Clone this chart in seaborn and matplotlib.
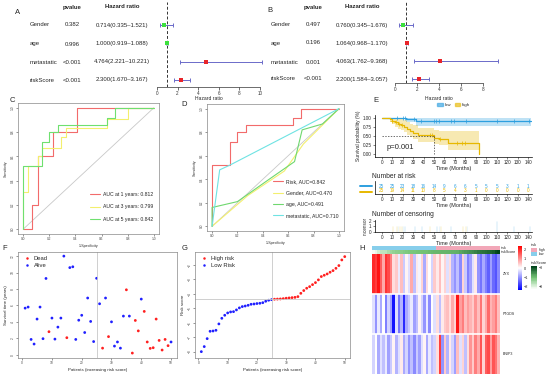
import numpy as np
import pandas as pd
import matplotlib
matplotlib.use("Agg")
import matplotlib.pyplot as plt
import matplotlib.transforms as mtrans
from matplotlib.colors import LinearSegmentedColormap, ListedColormap
from matplotlib.patches import Patch
import seaborn as sns

sns.set_theme(style="white")
plt.rcParams['font.family'] = ['Liberation Sans', 'DejaVu Sans']

# ---------------- data ----------------
forest_vars = ["Gender", "age", "metastatic", "riskScore"]
uni_p = ["0.382", "0.996", "<0.001", "<0.001"]
uni_hr = [0.714, 1.000, 4.764, 2.300]
uni_lo = [0.335, 0.919, 2.221, 1.670]
uni_hi = [1.521, 1.088, 10.221, 3.167]
multi_p = ["0.497", "0.196", "0.001", "<0.001"]
multi_hr = [0.760, 1.064, 4.063, 2.200]
multi_lo = [0.345, 0.968, 1.762, 1.584]
multi_hi = [1.676, 1.170, 9.368, 3.057]

# C: time-dependent ROC
roc1_fpr = [0, 0.069, 0.069, 0.115, 0.115, 0.23, 0.23, 0.413, 0.413, 1]
roc1_tpr = [0, 0, 0.2, 0.2, 0.6, 0.6, 0.8, 0.8, 1.0, 1]
roc3_fpr = [0, 0, 0.038, 0.038, 0.11, 0.11, 0.14, 0.14, 0.29, 0.29, 0.33, 0.33, 0.64, 0.64, 0.8, 0.8, 1]
roc3_tpr = [0, 0.31, 0.31, 0.52, 0.52, 0.6, 0.6, 0.67, 0.67, 0.76, 0.76, 0.83, 0.83, 0.91, 0.91, 1, 1]
roc5_fpr = [0, 0, 0.14, 0.14, 0.2, 0.2, 0.27, 0.27, 0.64, 0.64, 0.70, 0.70, 1]
roc5_tpr = [0, 0.52, 0.52, 0.72, 0.72, 0.8, 0.8, 0.86, 0.86, 0.92, 0.92, 1, 1]
roc_c_labels = ["AUC at 1 years: 0.812", "AUC at 3 years: 0.799", "AUC at 5 years: 0.842"]

# D: ROC by variable
risk_fpr = roc5_fpr
risk_tpr = roc5_tpr
gender_fpr = [0, 0.28, 0.57, 0.72, 1]
gender_tpr = [0, 0.26, 0.47, 0.70, 1]
age_fpr = [0, 0, 0.2, 0.45, 0.65, 0.71, 0.87, 1]
age_tpr = [0, 0.16, 0.21, 0.40, 0.55, 0.82, 0.87, 1]
meta_fpr = [0, 0.06, 0.14, 1]
meta_tpr = [0, 0.48, 0.52, 1]
roc_d_labels = ["Risk, AUC=0.842", "Gender, AUC=0.470", "age, AUC=0.491", "metastatic, AUC=0.710"]

# E: Kaplan-Meier
low_t = [0, 23, 33, 143]
low_s = [1.0, 0.96, 0.915, 0.915]
low_lower = [1.0, 0.88, 0.78, 0.78]
low_upper = [1.0, 1.0, 1.0, 1.0]
high_t = [0, 8, 10, 13, 16, 18, 21, 24, 27, 30, 35, 50, 55, 63, 93]
high_s = [1, 0.96, 0.92, 0.88, 0.84, 0.80, 0.76, 0.70, 0.64, 0.58, 0.52, 0.46, 0.42, 0.31, 0.0]
high_lower = [1, 0.89, 0.82, 0.76, 0.71, 0.66, 0.61, 0.54, 0.47, 0.41, 0.33, 0.28, 0.25, 0.13, 0.0]
high_upper = [1, 1, 1, 0.99, 0.98, 0.96, 0.93, 0.89, 0.84, 0.80, 0.73, 0.68, 0.65, 0.63, 0.0]
low_cens = [15, 20, 22, 31, 38, 50, 52, 55, 66, 69, 81, 110, 126, 141]
low_cens_n = [1, 1, 1, 1, 1, 1, 1, 1, 1, 1, 1, 2, 1, 1]
high_cens = [10, 14, 17, 19, 46, 48, 56, 72, 77, 80]
high_cens_n = [1, 1, 1, 1, 1, 1, 1, 1, 1, 1]
risk_times = [0, 10, 20, 30, 40, 50, 60, 70, 80, 90, 100, 110, 120, 130, 140]
low_at_risk = [25, 25, 23, 18, 16, 14, 9, 6, 6, 5, 5, 5, 3, 1, 1]
high_at_risk = [25, 19, 14, 11, 10, 8, 5, 4, 3, 1, 0, 0, 0, 0, 0]

# F: survival status
surv_years = [5.67, 5.8, 1.86, 1.3, 4.34, 5.8, 1.95, 9.28, 2.8, 4.46,
              1.9, 3.36, 4.46, 12.0, 2.07, 10.6, 10.7, 1.86, 4.2, 4.8,
              2.7, 6.9, 4.05, 1.6, 9.3, 6.2, 0.8, 6.9, 2.2, 4.0,
              1.05, 1.55, 0.8, 4.7, 7.9, 4.7, 0.2, 4.17, 2.9, 6.77,
              5.27, 1.55, 0.77, 0.85, 4.34, 1.74, 0.57, 1.86, 1.1, 1.55]
dead = [0, 0, 0, 0, 0, 0, 0, 0, 1, 0,
        0, 0, 0, 0, 1, 0, 0, 0, 0, 0,
        0, 0, 0, 0, 0, 0, 1, 0, 1, 0,
        0, 0, 0, 0, 1, 0, 1, 1, 1, 0,
        1, 1, 1, 1, 1, 1, 1, 1, 1, 0]

# G: risk score
risk_score = [-8.00, -7.65, -7.10, -6.59, -6.57, -6.52, -6.08, -5.69, -5.48, -5.32,
              -5.25, -5.23, -5.11, -4.97, -4.88, -4.84, -4.79, -4.72, -4.70, -4.67,
              -4.65, -4.61, -4.51, -4.44, -4.40, -4.37, -4.36, -4.35, -4.33, -4.30,
              -4.28, -4.26, -4.24, -4.19, -3.96, -3.77, -3.61, -3.50, -3.36, -3.22,
              -3.03, -2.80, -2.71, -2.62, -2.50, -2.39, -2.23, -2.04, -1.65, -1.42]
risk_cutoff = -4.38

# H: expression heatmap
genes = ["ZYX", "PTGDS", "BNIP3"]
zyx = [2.0, 1.8, 2.2, 1.5, 0.8, 1.9, 1.7, 1.2, 0.3, 0.5,
       -0.2, 0.6, -0.5, 0.1, -0.3, 0.8, -0.6, 0.2, -0.1, 0.4,
       -0.8, 0.3, 0.0, -0.4, 0.5, 0.2, 0.6, 0.1, 0.4, -0.3,
       0.3, -0.7, -1.0, -0.6, -1.1, 0.4, -0.5, -1.2, -0.9, -0.3,
       0.2, -1.0, -1.3, -0.8, -1.2, -1.5, -0.9, -1.4, -1.6, -1.1]
ptgds = [-0.3, -1.0, -0.2, -0.8, 0.0, -1.2, -0.4, -0.9, -2.2, -0.3,
         -1.3, -0.7, -2.0, -0.8, -0.5, -0.2, -0.9, -0.6, 0.1, -0.4,
         -1.0, -0.2, -1.1, 0.0, -0.3, 0.3, -0.6, 0.2, 0.5, 0.6,
         0.3, 0.8, 0.4, 2.2, 0.9, 1.2, 0.6, 0.9, 0.7, 0.5,
         1.0, 0.6, 1.3, 0.4, 0.8, 1.4, 0.7, 0.9, 1.2, 0.6]
bnip3 = [-0.4, 0.0, -0.8, -0.3, -0.6, -0.2, -0.9, -0.5, 0.1, -0.7,
         -0.3, 0.2, -0.8, -0.4, -1.0, -0.6, -1.1, -0.5, -0.9, -0.3,
         0.1, -0.8, -0.2, -0.6, -0.4, 0.3, 1.8, -1.0, 0.5, -0.7,
         0.2, -0.4, -0.9, 0.6, -0.3, 0.4, -0.6, 0.3, 1.0, 0.5,
         1.2, 0.8, 1.6, 0.4, 1.5, 1.7, 0.9, 1.6, 1.3, 0.7]

# ---------------- layout helpers ----------------
W, H = 550, 379
fig = plt.figure(figsize=(W / 100, H / 100), dpi=100)


def add_ax(x0, y0, x1, y1):
    return fig.add_axes([x0 / W, 1 - y1 / H, (x1 - x0) / W, (y1 - y0) / H])


def ftext(x, y, s, **kw):
    kw.setdefault('va', 'center')
    fig.text(x / W, 1 - y / H, s, **kw)


blue_c = "#2E9FDF"
yel_c = "#E7B800"
fs = 4.3

# ---------------- A / B forest plots ----------------
def forest(x0, x1, y_rows, y_top, y_axis, xmax, hr, lo, hi, pv, lab_x, p_x, hr_x, letter, letter_xy):
    ax = add_ax(x0, y_top, x1, y_axis)
    step = (y_rows[-1] - y_rows[0]) / 3
    ax.set_ylim((y_axis - y_rows[0]) / step, (y_top - y_rows[0]) / step)
    ax.set_xlim(0, xmax)
    rows = np.arange(4)
    hr_a, lo_a, hi_a = np.array(hr), np.array(lo), np.array(hi)
    ax.axvline(1, ls=(0, (3, 2)), color="#333333", lw=0.7)
    ax.errorbar(hr_a, rows, xerr=[hr_a - lo_a, hi_a - hr_a], fmt='none', ecolor="#6b6bc9",
                elinewidth=0.7, capsize=1.6, capthick=0.7, clip_on=False)
    df = pd.DataFrame({"hr": hr_a, "row": rows, "grp": np.where(hr_a > 1, "up", "down")})
    sns.scatterplot(data=df, x="hr", y="row", hue="grp", palette={"up": "#e8242a", "down": "#3de03d"},
                    marker='s', s=9, edgecolor='none', legend=False, ax=ax, zorder=3, clip_on=False)
    for s in ["top", "right", "left"]:
        ax.spines[s].set_visible(False)
    ax.spines["bottom"].set_linewidth(0.5)
    ax.spines["bottom"].set_color("#333333")
    ax.set_xticks(np.arange(0, xmax + 1, 2))
    ax.set_yticks([])
    ax.tick_params(axis='x', labelsize=3.3, length=2, width=0.5, pad=1, bottom=True, colors="#333333")
    ax.set_xlabel("")
    ax.set_ylabel("")
    ftext((x0 + x1) / 2, 98, "Hazard ratio", ha='center', fontsize=3.6)
    ftext(p_x, 7, "pvalue", ha='center', fontsize=fs, fontweight='bold')
    ftext(hr_x, 7, "Hazard ratio", ha='center', fontsize=fs, fontweight='bold')
    for i in range(4):
        ftext(lab_x, y_rows[i], forest_vars[i], ha='left', fontsize=fs)
        ftext(p_x, y_rows[i], pv[i], ha='center', fontsize=fs)
        ftext(hr_x, y_rows[i], f"{hr[i]:.3f}({lo[i]:.3f}\u2013{hi[i]:.3f})", ha='center', fontsize=fs)
    ftext(letter_xy[0], letter_xy[1], letter, ha='center', fontsize=5.5)


forest(157, 260, [25, 44, 62, 80], 2, 87, 10, uni_hr, uni_lo, uni_hi, uni_p, 30, 72, 122, "A", (18, 13))
forest(395, 483, [25, 43, 62, 79], 2, 83, 8, multi_hr, multi_lo, multi_hi, multi_p, 271, 313, 362, "B", (270, 10))

# ---------------- C / D ROC ----------------
def roc_axes(box, curves, labels, colors, leg_xy, spacing, letter, letter_xy):
    ax = add_ax(*box)
    ax.plot([0, 1], [0, 1], color="#c8c8c8", lw=0.6)
    for (fx, ty), lab, col in zip(curves, labels, colors):
        sns.lineplot(x=fx, y=ty, sort=False, estimator=None, color=col, lw=0.8, ax=ax, label=lab)
    ax.set_xlim(-0.04, 1.04)
    ax.set_ylim(-0.04, 1.04)
    tk = [0, 0.2, 0.4, 0.6, 0.8, 1.0]
    ax.set_xticks(tk)
    ax.set_yticks(tk)
    ax.set_xticklabels([f"{t:.1f}" for t in tk])
    ax.set_yticklabels([f"{t:.1f}" for t in tk], rotation=90, va='center')
    ax.tick_params(labelsize=2.3, length=1.5, width=0.4, pad=1, bottom=True, left=True, colors="#444444")
    for s in ax.spines.values():
        s.set_linewidth(0.5)
        s.set_color("#888888")
    ax.set_xlabel("1-Specificity", fontsize=2.6, labelpad=2)
    ax.set_ylabel("Sensitivity", fontsize=2.6, labelpad=2)
    ax.legend(loc='upper left', bbox_to_anchor=(leg_xy[0] / W, 1 - leg_xy[1] / H),
              bbox_transform=fig.transFigure, frameon=False, fontsize=3.7, handlelength=1.9,
              handletextpad=0.7, labelspacing=spacing, borderpad=0, borderaxespad=0)
    ftext(letter_xy[0], letter_xy[1], letter, ha='center', fontsize=5.5)


roc_axes((18, 103, 159, 234), [(roc1_fpr, roc1_tpr), (roc3_fpr, roc3_tpr), (roc5_fpr, roc5_tpr)],
         roc_c_labels, ["#f26b6b", "#f3ef6e", "#6fe06f"], (90, 192), 1.45, "C", (12, 100))
roc_axes((207, 104, 344, 231),
         [(risk_fpr, risk_tpr), (gender_fpr, gender_tpr), (age_fpr, age_tpr), (meta_fpr, meta_tpr)],
         roc_d_labels, ["#f26b6b", "#f3ef6e", "#6fd86f", "#6fe3e3"], (273, 179), 1.25, "D", (184, 105))

# ---------------- E: KM curves ----------------
ftext(376, 101, "E", ha='center', fontsize=5.5)
ax = add_ax(375, 115, 532, 157)
ax.set_xlim(-6.4, 143.6)
ax.set_ylim(-0.07, 1.08)
for t, s, lwr, upr, col in [(low_t, low_s, low_lower, low_upper, blue_c),
                            (high_t, high_s, high_lower, high_upper, yel_c)]:
    ax.fill_between(t, lwr, upr, step='post', color=col, alpha=0.3, lw=0)
    sns.lineplot(x=t, y=s, estimator=None, sort=False, drawstyle='steps-post', color=col, lw=0.9, ax=ax)
for ct, t, s, col in [(low_cens, low_t, low_s, blue_c), (high_cens, high_t, high_s, yel_c)]:
    idx = np.searchsorted(t, ct, side='right') - 1
    ax.plot(ct, np.array(s)[idx], ls='none', marker='+', ms=2.5, mew=0.5, color=col)
hs = np.array(high_s)
med = high_t[int(np.argmax(hs <= 0.5))]
ax.plot([0, med], [0.5, 0.5], ls=(0, (2, 2)), color="#333333", lw=0.5)
ax.plot([med, med], [0.5, 0], ls=(0, (2, 2)), color="#333333", lw=0.5)
ax.text(5, 0.2, "p=0.001", fontsize=5.5, va='center')
ax.set_xticks(risk_times)
ax.set_yticks([0, 0.25, 0.5, 0.75, 1.0])
ax.set_yticklabels(["0.00", "0.25", "0.50", "0.75", "1.00"])
ax.tick_params(labelsize=3.3, length=1.5, width=0.4, pad=1, bottom=True, left=True)
for s in ["top", "right"]:
    ax.spines[s].set_visible(False)
for s in ["left", "bottom"]:
    ax.spines[s].set_linewidth(0.5)
    ax.spines[s].set_color("black")
ax.set_xlabel("Time (Months)", fontsize=4, labelpad=0.5)
ax.set_ylabel("Survival probability (%)", fontsize=3.5, labelpad=1)
handles = [Patch(facecolor=blue_c, edgecolor=blue_c, alpha=0.6), Patch(facecolor=yel_c, edgecolor=yel_c, alpha=0.6)]
fig.legend(handles, ["low", "high"], loc='center left', bbox_to_anchor=(437 / W, 1 - 105 / H), ncol=2,
           frameon=False, fontsize=3.2, handlelength=1.3, handleheight=0.8, handletextpad=0.4,
           columnspacing=0.8, borderpad=0, borderaxespad=0)

# number at risk
ftext(372, 177, "Number at risk", ha='left', fontsize=4.8)
ax = add_ax(375, 181, 532, 194)
ax.set_xlim(-6.4, 143.6)
ax.set_ylim(-0.6, 2.0)
for i, t in enumerate(risk_times):
    ax.text(t, 1, str(low_at_risk[i]), color=blue_c, ha='center', va='center', fontsize=3.3)
    ax.text(t, 0, str(high_at_risk[i]), color=yel_c, ha='center', va='center', fontsize=3.3)
trans = mtrans.blended_transform_factory(ax.transAxes, ax.transData)
ax.plot([-0.095, -0.02], [1.1, 1.1], color=blue_c, lw=1.4, transform=trans, clip_on=False)
ax.plot([-0.095, -0.02], [-0.1, -0.1], color=yel_c, lw=1.4, transform=trans, clip_on=False)
ax.set_xticks(risk_times)
ax.set_yticks([])
ax.tick_params(labelsize=3.3, length=1.5, width=0.4, pad=1, bottom=True)
for s in ["top", "right"]:
    ax.spines[s].set_visible(False)
for s in ["left", "bottom"]:
    ax.spines[s].set_linewidth(0.5)
    ax.spines[s].set_color("black")
ax.set_xlabel("Time (Months)", fontsize=4, labelpad=0.5)

# number of censoring
ftext(372, 214, "Number of censoring", ha='left', fontsize=4.8)
ax = add_ax(375, 220, 532, 232)
ax.set_xlim(-6.4, 143.6)
ax.set_ylim(0, 2.1)
ax.bar(low_cens, low_cens_n, width=0.8, color=blue_c, alpha=0.7)
ax.bar(high_cens, high_cens_n, width=0.8, color=yel_c, alpha=0.7)
ax.set_xticks(risk_times)
ax.set_yticks([0, 1, 2])
ax.tick_params(labelsize=3.3, length=1.5, width=0.4, pad=1, bottom=True, left=True)
for s in ["top", "right"]:
    ax.spines[s].set_visible(False)
for s in ["left", "bottom"]:
    ax.spines[s].set_linewidth(0.5)
    ax.spines[s].set_color("black")
ax.set_xlabel("Time (Months)", fontsize=4, labelpad=0.5)
ax.set_ylabel("n.censor", fontsize=3.3, labelpad=1)

# ---------------- F: survival status ----------------
patients = np.arange(1, 51)
ax = add_ax(18, 252, 177, 358)
fdf = pd.DataFrame({"p": patients, "t": surv_years, "status": np.where(np.array(dead) == 1, "Dead", "Alive")})
ax.axvline(25, color="#c8c8c8", lw=0.6)
sns.scatterplot(data=fdf, x="p", y="t", hue="status", hue_order=["Dead", "Alive"],
                palette={"Dead": "#ff2020", "Alive": "#2020ff"}, s=4, edgecolor='none', ax=ax)
ax.set_xlim(-1.4, 52)
ax.set_ylim(-0.4, 12.5)
ax.set_xticks([0, 10, 20, 30, 40, 50])
ax.set_yticks([0, 2, 4, 6, 8, 10, 12])
ax.tick_params(labelsize=2.3, length=1.5, width=0.4, pad=1, bottom=True, left=True, colors="#444444")
plt.setp(ax.get_yticklabels(), rotation=90, va='center')
for s in ax.spines.values():
    s.set_linewidth(0.5)
    s.set_color("#888888")
ax.set_xlabel("Patients (increasing risk score)", fontsize=3.2, labelpad=2)
ax.set_ylabel("Survival time (years)", fontsize=3.2, labelpad=2)
ax.legend(loc='upper left', frameon=False, fontsize=4.2, markerscale=0.9, handletextpad=0.1,
          labelspacing=0.45, borderpad=0.3, borderaxespad=0.3)
ftext(5, 248, "F", ha='center', fontsize=5.5)

# ---------------- G: risk score ----------------
ax = add_ax(195, 252, 350, 358)
gdf = pd.DataFrame({"p": patients, "r": risk_score,
                    "grp": np.where(np.array(risk_score) > risk_cutoff, "High risk", "Low Risk")})
ax.axvline(25, color="#c8c8c8", lw=0.6)
ax.axhline(risk_cutoff, color="#c8c8c8", lw=0.6)
sns.scatterplot(data=gdf, x="p", y="r", hue="grp", hue_order=["High risk", "Low Risk"],
                palette={"High risk": "#ff2020", "Low Risk": "#2020ff"}, s=4, edgecolor='none', ax=ax)
ax.set_xlim(-1.16, 51.8)
ax.set_ylim(-8.44, -1.1)
ax.set_xticks([0, 10, 20, 30, 40, 50])
ax.set_yticks([-8, -7, -6, -5, -4, -3, -2])
ax.tick_params(labelsize=2.3, length=1.5, width=0.4, pad=1, bottom=True, left=True, colors="#444444")
plt.setp(ax.get_yticklabels(), rotation=90, va='center')
for s in ax.spines.values():
    s.set_linewidth(0.5)
    s.set_color("#888888")
ax.set_xlabel("Patients (increasing risk score)", fontsize=3.2, labelpad=2)
ax.set_ylabel("Risk score", fontsize=3.2, labelpad=2)
ax.legend(loc='upper left', frameon=False, fontsize=4.2, markerscale=0.9, handletextpad=0.1,
          labelspacing=0.45, borderpad=0.3, borderaxespad=0.3)
ftext(185, 248, "G", ha='center', fontsize=5.5)

# ---------------- H: heatmap ----------------
ftext(362, 248, "H", ha='center', fontsize=5.5)
risk_cmap = ListedColormap(["#87CEEB", "#F2A7B8"])
score_cmap = LinearSegmentedColormap.from_list("sc", ["#f7fcf5", "#74c476", "#00441b"])
expr_cmap = LinearSegmentedColormap.from_list("ex", ["#0000ff", "#ffffff", "#ff0000"])

ax = add_ax(372, 246, 500, 250)
sns.heatmap(np.array([(np.array(risk_score) > risk_cutoff).astype(int)]), cmap=risk_cmap, cbar=False,
            xticklabels=False, yticklabels=False, ax=ax)
ax = add_ax(372, 250, 500, 254)
sns.heatmap(np.array([risk_score]), cmap=score_cmap, cbar=False, xticklabels=False, yticklabels=False, ax=ax)
ftext(501, 248, "risk", ha='left', fontsize=2.6)
ftext(501, 252, "riskScore", ha='left', fontsize=2.6)

ax = add_ax(372, 254, 500, 374)
cax = add_ax(518, 246, 522, 290)
expr = pd.DataFrame([zyx, ptgds, bnip3], index=genes)
sns.heatmap(expr, cmap=expr_cmap, vmin=-2.4, vmax=2.4, xticklabels=False, yticklabels=False,
            ax=ax, cbar_ax=cax)
ax.axhline(1, color="white", lw=1.2)
ax.axhline(2, color="white", lw=1.2)
for i, g in enumerate(genes):
    ftext(503, 254 + 40 * i + 20, g, ha='left', fontsize=2.6)
cax.set_yticks([-2, -1, 0, 1, 2])
cax.tick_params(labelsize=2.8, length=0, pad=1.5, right=False)

# risk legend
ftext(531, 245, "risk", ha='left', fontsize=2.8)
lax = add_ax(531, 248, 537, 256)
sns.heatmap(np.array([[1], [0]]), cmap=risk_cmap, cbar=False, xticklabels=False, yticklabels=False, ax=lax)
ftext(539, 250, "high", ha='left', fontsize=2.6)
ftext(539, 254, "low", ha='left', fontsize=2.6)
ftext(531, 263, "riskScore", ha='left', fontsize=2.8)
gax = add_ax(531, 266, 537, 289)
sns.heatmap(np.linspace(max(risk_score), min(risk_score), 30).reshape(-1, 1), cmap=score_cmap,
            cbar=False, xticklabels=False, yticklabels=False, ax=gax)
ftext(539, 268, "\u22123", ha='left', fontsize=2.6)
ftext(539, 287, "\u22128", ha='left', fontsize=2.6)

fig.savefig("out.png", dpi=100)
